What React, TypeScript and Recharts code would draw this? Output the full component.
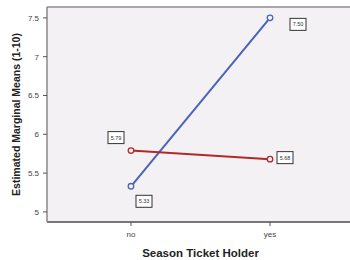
import React from 'react';
import { LineChart, Line, XAxis, YAxis, CartesianGrid, LabelList, ReferenceLine } from 'recharts';

const categories = ['no', 'yes'];
const blueValues = [5.33, 7.5];
const redValues = [5.79, 5.68];
const yTicks = [5, 5.5, 6, 6.5, 7, 7.5];

const data = categories.map((c, i) => ({ cat: c, blue: blueValues[i], red: redValues[i] }));

const BLUE = '#4a63b5';
const RED = '#b02a2a';
const BG = '#f4f1f4';

const blueOffsets = [[13, 15], [28, 6.5]];
const redOffsets = [[-15, -13], [15, -1.5]];

const makeBoxLabel = (offsets: number[][]) => (props: any) => {
  const { x, y, value, index } = props;
  const [dx, dy] = offsets[index] || [0, 0];
  const cx = x + dx;
  const cy = y + dy;
  return (
    <g>
      <rect x={cx - 8} y={cy - 6} width={16} height={12} fill="#ffffff" stroke="#333" strokeWidth={1} />
      <text x={cx} y={cy} textAnchor="middle" dominantBaseline="central" fontSize={5.5} fill="#333" fontFamily="Liberation Sans, Arial, sans-serif">
        {Number(value).toFixed(2)}
      </text>
    </g>
  );
};

const HollowDot = (color: string) => (props: any) => {
  const { cx, cy } = props;
  return <circle cx={cx} cy={cy} r={2.8} fill={BG} stroke={color} strokeWidth={1.3} />;
};

const XTick = (props: any) => {
  const { x, y, payload } = props;
  return (
    <text x={x} y={y} dy="0.71em" textAnchor="middle" fontSize={8} fill="#444" stroke="none">{payload.value}</text>
  );
};

export default function App() {
  return (
    <div style={{ position: 'absolute', left: 0, top: 0, width: 350, height: 260, overflow: 'hidden', background: '#fff' }}>
      <LineChart width={360} height={260} data={data} margin={{ top: 7, right: 2, left: 0, bottom: 0 }}
        style={{ fontFamily: 'Liberation Sans, Arial, sans-serif' }}>
        <CartesianGrid horizontal={false} vertical={false} fill={BG} />
        <ReferenceLine y={7.64} stroke="#a8a8a8" strokeWidth={2} />
        <XAxis dataKey="cat" type="category" padding={{ left: 84, right: 88 }} height={38}
          stroke="#777" strokeWidth={2} tickLine={{ stroke: '#555', strokeWidth: 1 }} tickSize={4} tickMargin={5}
          tick={<XTick />}
          label={{ value: 'Season Ticket Holder', position: 'insideBottom', offset: 3, dx: -2, style: { fontSize: 11.5, fontWeight: 'bold', fill: '#222' } }} />
        <YAxis type="number" domain={[4.87, 7.64]} ticks={yTicks} width={47} allowDataOverflow
          stroke="#888" strokeWidth={1.5} tickLine={{ stroke: '#555', strokeWidth: 1 }} tickSize={4} tickMargin={4}
          tick={{ fontSize: 8, fill: '#444' }}
          label={(p: any) => {
            const vb = p.viewBox;
            const cx = vb.x + 16;
            const cy = vb.y + vb.height / 2;
            return (
              <text x={cx} y={cy} transform={`rotate(-90 ${cx} ${cy})`} textAnchor="middle" dominantBaseline="central"
                fontSize={10.5} fontWeight="bold" fill="#222">Estimated Marginal Means (1-10)</text>
            );
          }} />
        <Line dataKey="blue" stroke={BLUE} strokeWidth={2} isAnimationActive={false} dot={HollowDot(BLUE)} activeDot={false}>
          <LabelList dataKey="blue" content={makeBoxLabel(blueOffsets)} />
        </Line>
        <Line dataKey="red" stroke={RED} strokeWidth={2} isAnimationActive={false} dot={HollowDot(RED)} activeDot={false}>
          <LabelList dataKey="red" content={makeBoxLabel(redOffsets)} />
        </Line>
      </LineChart>
    </div>
  );
}
